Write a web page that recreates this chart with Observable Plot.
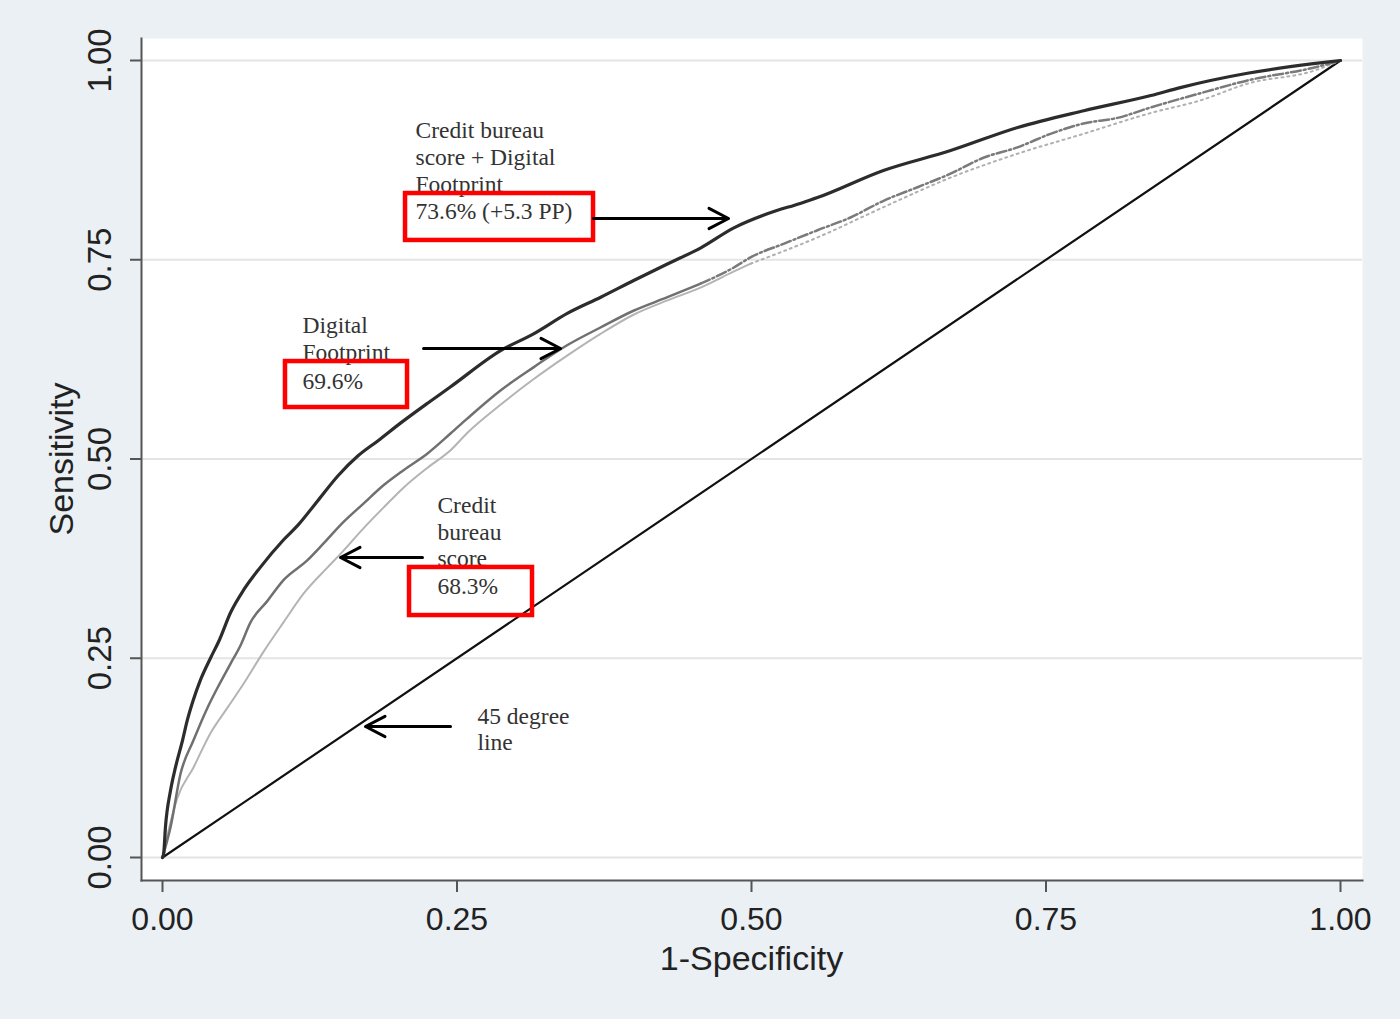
<!DOCTYPE html>
<html><head><meta charset="utf-8">
<script src="https://cdn.jsdelivr.net/npm/d3@7"></script>
<script src="https://cdn.jsdelivr.net/npm/@observablehq/plot@0.6"></script>
<style>html,body{margin:0;padding:0;background:#eaf0f4;overflow:hidden}</style>
</head><body><div id="chart"></div>
<script>
// Tick values
const xTicks = [0, 0.25, 0.5, 0.75, 1];
const yTicks = [0, 0.25, 0.5, 0.75, 1];

// ROC curve: Credit bureau score + Digital Footprint (AUC 73.6%)
const combined = [
  [0,0],[0.001,0.005],[0.0025,0.038],[0.0068,0.084],[0.011,0.113],[0.017,0.147],[0.021,0.172],
  [0.026,0.197],[0.032,0.222],[0.041,0.251],[0.048,0.272],[0.058,0.308],[0.069,0.336],[0.083,0.364],
  [0.103,0.399],[0.115,0.417],[0.132,0.448],[0.149,0.479],[0.166,0.504],[0.183,0.523],[0.202,0.545],
  [0.225,0.570],[0.244,0.590],[0.287,0.636],[0.315,0.657],[0.344,0.683],[0.372,0.703],[0.400,0.724],
  [0.429,0.745],[0.457,0.765],[0.485,0.790],[0.514,0.808],[0.542,0.821],[0.556,0.828],[0.612,0.862],
  [0.669,0.887],[0.726,0.916],[0.782,0.937],[0.839,0.956],[0.864,0.966],[0.921,0.984],[0.977,0.996],[1,1]
];

// ROC curve: Digital Footprint (AUC 69.6%)
const digitalFootprint = [
  [0,0],[0.0068,0.038],[0.0153,0.105],[0.0263,0.147],[0.0382,0.188],[0.0467,0.213],[0.0577,0.243],
  [0.0662,0.266],[0.0747,0.295],[0.0891,0.322],[0.1027,0.348],[0.1231,0.373],[0.1367,0.394],[0.1537,0.421],
  [0.1706,0.444],[0.1876,0.467],[0.2046,0.486],[0.2250,0.507],[0.2445,0.532],[0.2589,0.551],[0.2869,0.586],
  [0.3149,0.615],[0.3438,0.643],[0.3718,0.665],[0.3998,0.686],[0.4287,0.703],[0.4567,0.720],[0.4847,0.740],
  [0.4992,0.753],[0.5272,0.770],[0.5560,0.787],[0.5840,0.803],[0.6121,0.824],[0.6409,0.841],[0.6689,0.858],
  [0.6969,0.878],[0.7258,0.891],[0.7538,0.908],[0.7818,0.921],[0.8107,0.928],[0.8387,0.941],[0.8812,0.959],
  [0.9211,0.975],[0.9771,0.991],[1,1]
];

// ROC curve: Credit bureau score (AUC 68.3%)
const creditBureau = [
  [0,0],[0.0051,0.034],[0.0127,0.075],[0.0263,0.113],[0.0407,0.156],[0.0552,0.188],[0.0688,0.218],
  [0.0857,0.258],[0.1027,0.295],[0.1197,0.331],[0.1401,0.364],[0.1511,0.381],[0.1706,0.413],[0.1876,0.439],
  [0.2046,0.464],[0.2250,0.489],[0.2445,0.511],[0.2589,0.533],[0.2869,0.568],[0.3149,0.600],[0.3438,0.630],
  [0.3718,0.657],[0.3998,0.681],[0.4287,0.699],[0.4567,0.715],[0.4847,0.735],[0.4992,0.745],[0.5560,0.778],
  [0.6121,0.816],[0.6689,0.853],[0.7258,0.883],[0.7818,0.908],[0.8387,0.934],[0.8812,0.950],[0.9211,0.971],
  [0.9771,0.987],[1,1]
];

// 45 degree reference line
const diagonal = [[0,0],[1,1]];

// Annotation text lines
const labelText = [
  "Credit bureau","score + Digital","Footprint","73.6% (+5.3 PP)",
  "Digital","Footprint","69.6%",
  "Credit","bureau","score","68.3%",
  "45 degree","line"
];
const labelX = [0.2148,0.2148,0.2148,0.2148, 0.1188,0.1188,0.1188, 0.2334,0.2334,0.2334,0.2334, 0.2674,0.2674];
const labelY = [0.9122,0.8783,0.8444,0.8105, 0.6675,0.6336,0.5972, 0.4417,0.4078,0.3752,0.340, 0.1769,0.1443];

// Highlight boxes around the AUC values
const boxX1 = [0.2063, 0.1044, 0.2097];
const boxX2 = [0.3659, 0.2080, 0.3141];
const boxY1 = [0.7742, 0.5646, 0.3036];
const boxY2 = [0.8331, 0.6223, 0.3639];

// Arrows pointing at the curves
const arrowX1 = [0.3659, 0.2216, 0.2207, 0.2445];
const arrowX2 = [0.4805, 0.3379, 0.1511, 0.1723];
const arrowY  = [0.8018, 0.6386, 0.3764, 0.1644];

const toPts = a => a.map(([x, y]) => ({x, y}));
const labels = labelText.map((t, i) => ({t, x: labelX[i], y: labelY[i]}));
const boxes = boxX1.map((d, i) => ({x1: boxX1[i], x2: boxX2[i], y1: boxY1[i], y2: boxY2[i]}));
const arrows = arrowX1.map((d, i) => ({x1: arrowX1[i], x2: arrowX2[i], y: arrowY[i]}));

const dfSplit = 0.4567, cbSplit = 0.4992;
const dfSolid = toPts(digitalFootprint.filter(d => d[0] <= dfSplit));
const dfDash = toPts(digitalFootprint.filter(d => d[0] >= dfSplit));
const cbSolid = toPts(creditBureau.filter(d => d[0] <= cbSplit));
const cbDot = toPts(creditBureau.filter(d => d[0] >= cbSplit));

const sans = "'Liberation Sans', Arial, sans-serif";
const serif = "'Liberation Serif', 'Times New Roman', serif";
const curve = "monotone-x";

const chart = Plot.plot({
  width: 1400,
  height: 1019,
  marginLeft: 141,
  marginRight: 38,
  marginTop: 38,
  marginBottom: 139,
  style: {background: "#eaf0f4", fontFamily: sans, color: "#222"},
  x: {domain: [-0.01783, 1.01868], label: null},
  y: {domain: [-0.02886, 1.0276], label: null},
  marks: [
    Plot.frame({fill: "white", stroke: "none"}),
    Plot.gridY(yTicks, {stroke: "#e4e4e4", strokeOpacity: 1, strokeWidth: 2}),
    Plot.frame({anchor: "left", stroke: "#555", strokeWidth: 2}),
    Plot.frame({anchor: "bottom", stroke: "#555", strokeWidth: 2}),
    Plot.axisX({ticks: xTicks, tickFormat: ".2f", tickSize: 12, tickPadding: 15, fontSize: 32, stroke: "#555", strokeWidth: 2, fill: "#222"}),
    Plot.axisY({ticks: yTicks, tickFormat: ".2f", tickSize: 11, tickPadding: 20, tickRotate: -90, fontSize: 33, stroke: "#555", strokeWidth: 2, fill: "#222"}),
    Plot.text(["1-Specificity"], {x: 0.5, frameAnchor: "bottom", textAnchor: "middle", lineAnchor: "middle", dy: 79, fontSize: 34, fill: "#222"}),
    Plot.text(["Sensitivity"], {y: 0.5, frameAnchor: "left", textAnchor: "middle", lineAnchor: "middle", dx: -79, rotate: -90, fontSize: 34, fill: "#222"}),
    Plot.line(toPts(diagonal), {x: "x", y: "y", stroke: "#111", strokeWidth: 2.2}),
    Plot.line(cbSolid, {x: "x", y: "y", curve, stroke: "#b4b4b4", strokeWidth: 2}),
    Plot.line(cbDot, {x: "x", y: "y", curve, stroke: "#b0b0b0", strokeWidth: 2, strokeDasharray: "2,4"}),
    Plot.line(dfSolid, {x: "x", y: "y", curve, stroke: "#707070", strokeWidth: 2.5}),
    Plot.line(dfDash, {x: "x", y: "y", curve, stroke: "#7a7a7a", strokeWidth: 2.5, strokeDasharray: "10,3,2,3"}),
    Plot.line(toPts(combined), {x: "x", y: "y", curve, stroke: "#2c2c2c", strokeWidth: 3.2}),
    Plot.text(labels, {x: "x", y: "y", text: "t", textAnchor: "start", fontSize: 23.5, fontFamily: serif, fill: "#333"}),
    Plot.rect(boxes, {x1: "x1", x2: "x2", y1: "y1", y2: "y2", fill: "none", stroke: "#ff0000", strokeWidth: 4.5}),
    Plot.arrow(arrows, {x1: "x1", x2: "x2", y1: "y", y2: "y", stroke: "#000", strokeWidth: 3, headLength: 11, headAngle: 55})
  ]
});
document.getElementById("chart").appendChild(chart);
</script>
</body></html>
